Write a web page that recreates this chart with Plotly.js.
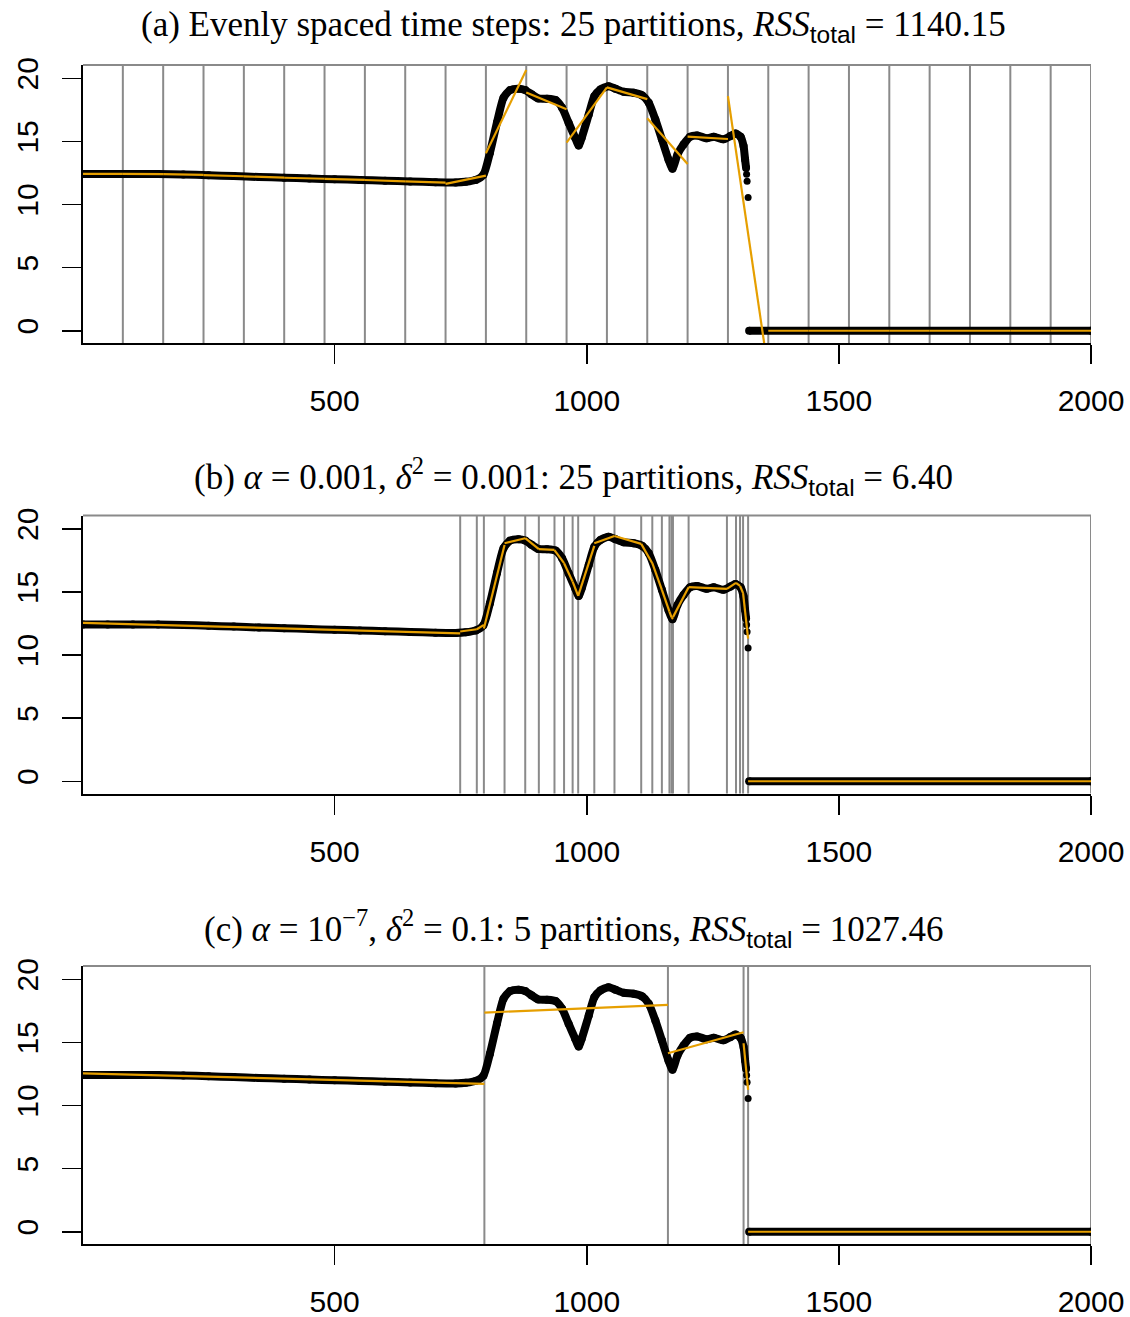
<!DOCTYPE html>
<html><head><meta charset="utf-8">
<script src="https://cdn.plot.ly/plotly-3.0.1.min.js"></script>
<style>body{margin:0;padding:0;background:#fff}#chart{width:1130px;height:1317px}</style>
</head><body><div id="chart"></div>
<script>
// ---- signal (black points), shared by all three panels ----
const sigX = [1, 50, 100, 150, 200, 250, 300, 350, 400, 450, 500, 550, 600, 650, 700, 740, 760, 780, 795, 808, 822, 835, 848, 865, 878, 891, 904, 921, 938, 951, 964, 977, 984, 990, 1004, 1015, 1027, 1043, 1057, 1073, 1093, 1110, 1123, 1136, 1149, 1162, 1170, 1180, 1192, 1205, 1219, 1238, 1252, 1271, 1285, 1295, 1305, 1311, 1314, 1316];
const sigY = [12.42, 12.42, 12.42, 12.41, 12.38, 12.32, 12.25, 12.18, 12.12, 12.06, 12.0, 11.95, 11.88, 11.83, 11.77, 11.75, 11.8, 11.95, 12.35, 14.1, 16.5, 18.46, 19.06, 19.17, 19.06, 18.72, 18.4, 18.38, 18.27, 17.67, 16.48, 15.29, 14.68, 15.29, 17.13, 18.58, 19.11, 19.37, 19.17, 18.93, 18.85, 18.64, 18.06, 16.74, 15.16, 13.57, 12.84, 13.97, 14.76, 15.37, 15.47, 15.24, 15.37, 15.16, 15.42, 15.63, 15.37, 14.63, 13.57, 12.9];
const dropX = [1317, 1318, 1320];
const dropY = [12.4, 11.85, 10.55];
const zeroX = [1322, 2000];
const zeroY = [0, 0];

// ---- panel (a): evenly spaced partitions ----
const boundsA = [1, 80, 160, 240, 320, 400, 480, 560, 640, 720, 800, 880, 960, 1040, 1120, 1200, 1280, 1360, 1440, 1520, 1600, 1680, 1760, 1840, 1920, 2000];
const fitStartA = [12.42, 12.42, 12.41, 12.33, 12.23, 12.12, 12.03, 11.94, 11.83, 11.63, 14.06, 18.88, 14.9, 19.28, 16.83, 15.37, 18.59, 0, 0, 0, 0, 0, 0, 0, 0];
const fitEndA   = [12.42, 12.41, 12.35, 12.24, 12.13, 12.04, 11.95, 11.84, 11.74, 12.29, 20.65, 17.54, 19.28, 18.35, 13.21, 15.19, -3.2, 0, 0, 0, 0, 0, 0, 0, 0];

// ---- panel (b): alpha = 0.001, delta^2 = 0.001 ----
const boundsB = [1, 749, 782, 796, 837, 878, 905, 936, 955, 972, 983, 1015, 1055, 1108, 1130, 1149, 1164, 1168, 1171, 1202, 1278, 1296, 1304, 1310, 1320, 2000];
const fitStartB = [12.55, 11.86, 12.04, 12.1, 18.85, 19.25, 18.38, 18.3, 17.27, 15.81, 14.68, 18.85, 19.43, 18.8, 17.27, 15.16, 13.44, 13.0, 13.0, 15.37, 15.24, 15.71, 15.47, 14.9, 0];
const fitEndB   = [11.72, 12.04, 12.39, 18.72, 19.25, 18.38, 18.32, 17.27, 15.81, 14.68, 18.64, 19.43, 18.8, 17.27, 15.16, 13.44, 13.0, 12.85, 15.37, 15.24, 15.71, 15.47, 14.9, 11.3, 0];

// ---- panel (c): alpha = 1e-7, delta^2 = 0.1 ----
const boundsC = [1, 797, 1161, 1311, 1320, 2000];
const fitStartC = [12.55, 17.36, 14.14, 14.93, 0];
const fitEndC   = [11.72, 17.97, 15.8, 11.24, 0];

// ---- axis ticks and titles ----
const xTicks = [500, 1000, 1500, 2000];
const yTicks = [0, 5, 10, 15, 20];
const sub = "<sub><span style='font-family:Liberation Sans'>total</span></sub>";
const titles = [
  "(a) Evenly spaced time steps: 25 partitions, <i>RSS</i>" + sub + " = 1140.15",
  "(b) <i>α</i> = 0.001, <i>δ</i><sup>2</sup> = 0.001: 25 partitions, <i>RSS</i>" + sub + " = 6.40",
  "(c) <i>α</i> = 10<sup>−7</sup>, <i>δ</i><sup>2</sup> = 0.1: 5 partitions, <i>RSS</i>" + sub + " = 1027.46"
];

const W = 1130, H = 1317;
const ORANGE = '#E69F00', GRAY = '#8a8a8a';
const panels = [
  {b: boundsA, s: fitStartA, e: fitEndA, top: 65, bot: 343, ty: 27},
  {b: boundsB, s: fitStartB, e: fitEndB, top: 515.5, bot: 793.5, ty: 477},
  {b: boundsC, s: fitStartC, e: fitEndC, top: 966, bot: 1244, ty: 928}
];

const data = [], shapes = [], annotations = [];
const layout = {
  width: W, height: H, margin: {l: 0, r: 0, t: 0, b: 0},
  paper_bgcolor: '#fff', plot_bgcolor: '#fff', showlegend: false
};
panels.forEach((p, i) => {
  const n = i === 0 ? '' : String(i + 1);
  const xa = 'x' + n, ya = 'y' + n;
  layout['xaxis' + n] = {
    domain: [83 / W, 1091 / W], range: [1, 2000], anchor: ya,
    tickvals: xTicks,
    ticks: 'outside', ticklen: 19, tickwidth: 1.5, tickcolor: '#000',
    showline: true, linecolor: '#000', linewidth: 2, mirror: false,
    showgrid: false, zeroline: false, ticklabelstandoff: 11,
    tickfont: {family: 'Liberation Sans, Arial, sans-serif', size: 30, color: '#000'}
  };
  layout['yaxis' + n] = {
    domain: [1 - p.bot / H, 1 - p.top / H], range: [-0.97, 21.05], anchor: xa,
    tickvals: yTicks, tickangle: -90,
    ticks: 'outside', ticklen: 19, tickwidth: 1.5, tickcolor: '#000',
    showline: true, linecolor: '#000', linewidth: 2, mirror: false,
    showgrid: false, zeroline: false, ticklabelstandoff: 12,
    tickfont: {family: 'Liberation Sans, Arial, sans-serif', size: 30, color: '#000'}
  };
  // partition boundaries (gray vertical lines), skip the left edge
  p.b.slice(1).forEach(bx => shapes.push({
    type: 'line', xref: xa, yref: ya + ' domain', x0: bx, x1: bx, y0: 0, y1: 1,
    line: {color: GRAY, width: 2}, layer: 'below'
  }));
  // top frame edge
  shapes.push({type: 'line', xref: xa + ' domain', yref: ya + ' domain', x0: 0, x1: 1, y0: 1, y1: 1,
    line: {color: GRAY, width: 2}, layer: 'above'});
  // black signal
  const mk = {color: '#000', size: 8};
  data.push({type: 'scatter', mode: 'lines+markers', x: sigX, y: sigY, xaxis: xa, yaxis: ya,
    line: {color: '#000', width: 8, shape: 'spline', smoothing: 0.6}, marker: mk, hoverinfo: 'skip'});
  data.push({type: 'scatter', mode: 'markers', x: dropX, y: dropY, xaxis: xa, yaxis: ya,
    marker: {color: '#000', size: 7}, hoverinfo: 'skip'});
  data.push({type: 'scatter', mode: 'lines+markers', x: zeroX, y: zeroY, xaxis: xa, yaxis: ya,
    line: {color: '#000', width: 8}, marker: mk, hoverinfo: 'skip'});
  // orange piecewise-linear fits
  const fx = [], fy = [];
  for (let k = 0; k < p.s.length; k++) {
    fx.push(p.b[k], p.b[k + 1], null);
    fy.push(p.s[k], p.e[k], null);
  }
  data.push({type: 'scatter', mode: 'lines', x: fx, y: fy, xaxis: xa, yaxis: ya,
    line: {color: ORANGE, width: 2.2}, connectgaps: false, hoverinfo: 'skip'});
  annotations.push({
    text: titles[i], xref: 'paper', yref: 'paper', x: 573 / W, y: 1 - p.ty / H,
    xanchor: 'center', yanchor: 'middle', showarrow: false,
    font: {family: 'Liberation Serif, Times New Roman, serif', size: 35, color: '#000'}
  });
});
layout.shapes = shapes;
layout.annotations = annotations;
Plotly.newPlot('chart', data, layout, {staticPlot: true, displayModeBar: false});
</script>
</body></html>
